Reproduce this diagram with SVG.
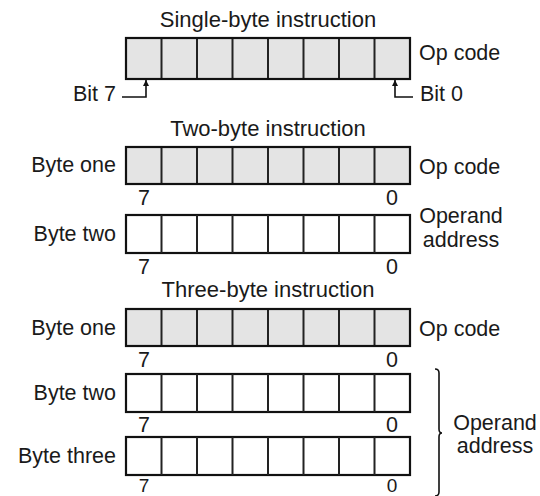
<svg xmlns="http://www.w3.org/2000/svg" width="540" height="496" viewBox="0 0 540 496">
<defs>
<style>
text{font-family:"Liberation Sans",Arial,sans-serif;font-size:21.5px;fill:#1a1a1a}
.title{font-size:22px;text-anchor:middle}
.end{text-anchor:end}
.mid{text-anchor:middle}
.last{font-size:19px}
.frame{fill:none;stroke:#111;stroke-width:2.2}
.shade{fill:#e4e4e4;stroke:none}
.div{stroke:#222;stroke-width:2}
.ln{fill:none;stroke:#111;stroke-width:1.6}
</style>
<marker id="ah" viewBox="0 0 10 10" refX="10" refY="5" markerWidth="7" markerHeight="6" orient="auto" markerUnits="userSpaceOnUse">
<path d="M0,0 L10,5 L0,10 Z" fill="#111"/>
</marker>
</defs>

<text class="title" x="268" y="27">Single-byte instruction</text>
<text class="title" x="268" y="136">Two-byte instruction</text>
<text class="title" x="268" y="297">Three-byte instruction</text>

<g id="single-byte">
<rect class="shade" x="126" y="38" width="284" height="41"/>
<path class="div" d="M161.5,38V79M197,38V79M232.5,38V79M268,38V79M303.5,38V79M339,38V79M374.5,38V79"/>
<rect class="frame" x="126" y="38" width="284" height="41"/>
<text x="419" y="60">Op code</text>
<text class="end" x="116" y="101">Bit 7</text>
<text x="420" y="101">Bit 0</text>
</g>

<g id="two-byte-one">
<rect class="shade" x="126" y="147" width="284" height="37"/>
<path class="div" d="M161.5,147V184M197,147V184M232.5,147V184M268,147V184M303.5,147V184M339,147V184M374.5,147V184"/>
<rect class="frame" x="126" y="147" width="284" height="37"/>
<text class="end" x="116" y="172">Byte one</text>
<text x="419" y="174">Op code</text>
<text class="mid" x="144" y="205">7</text>
<text class="mid" x="392" y="205">0</text>
</g>

<g id="two-byte-two">
<rect class="frame" x="126" y="215" width="284" height="38"/>
<path class="div" d="M161.5,215V253M197,215V253M232.5,215V253M268,215V253M303.5,215V253M339,215V253M374.5,215V253"/>
<text class="end" x="116" y="241">Byte two</text>
<text class="mid" x="461" y="223">Operand</text>
<text class="mid" x="461" y="247">address</text>
<text class="mid" x="144" y="274">7</text>
<text class="mid" x="392" y="274">0</text>
</g>

<g id="three-byte-one">
<rect class="shade" x="126" y="309" width="284" height="37"/>
<path class="div" d="M161.5,309V346M197,309V346M232.5,309V346M268,309V346M303.5,309V346M339,309V346M374.5,309V346"/>
<rect class="frame" x="126" y="309" width="284" height="37"/>
<text class="end" x="116" y="335">Byte one</text>
<text x="419" y="336">Op code</text>
<text class="mid" x="144" y="367">7</text>
<text class="mid" x="392" y="367">0</text>
</g>

<g id="three-byte-two">
<rect class="frame" x="126" y="374" width="284" height="38"/>
<path class="div" d="M161.5,374V412M197,374V412M232.5,374V412M268,374V412M303.5,374V412M339,374V412M374.5,374V412"/>
<text class="end" x="116" y="400">Byte two</text>
<text class="mid" x="144" y="432">7</text>
<text class="mid" x="392" y="432">0</text>
</g>

<g id="three-byte-three">
<rect class="frame" x="126" y="437" width="284" height="38"/>
<path class="div" d="M161.5,437V475M197,437V475M232.5,437V475M268,437V475M303.5,437V475M339,437V475M374.5,437V475"/>
<text class="end" x="116" y="463">Byte three</text>
<text class="mid last" x="144" y="492">7</text>
<text class="mid last" x="392" y="492">0</text>
</g>

<g id="operand-label">
<text class="mid" x="495" y="430">Operand</text>
<text class="mid" x="495" y="453">address</text>
</g>

<g id="connectors">
<path class="ln" d="M122,97H146V80" marker-end="url(#ah)"/>
<path class="ln" d="M413,97H395V80" marker-end="url(#ah)"/>
<path class="ln" d="M435,369Q439,369 439,373V429Q439,433 442,433Q439,433 439,437V492Q439,496 435,496"/>
</g>
</svg>
